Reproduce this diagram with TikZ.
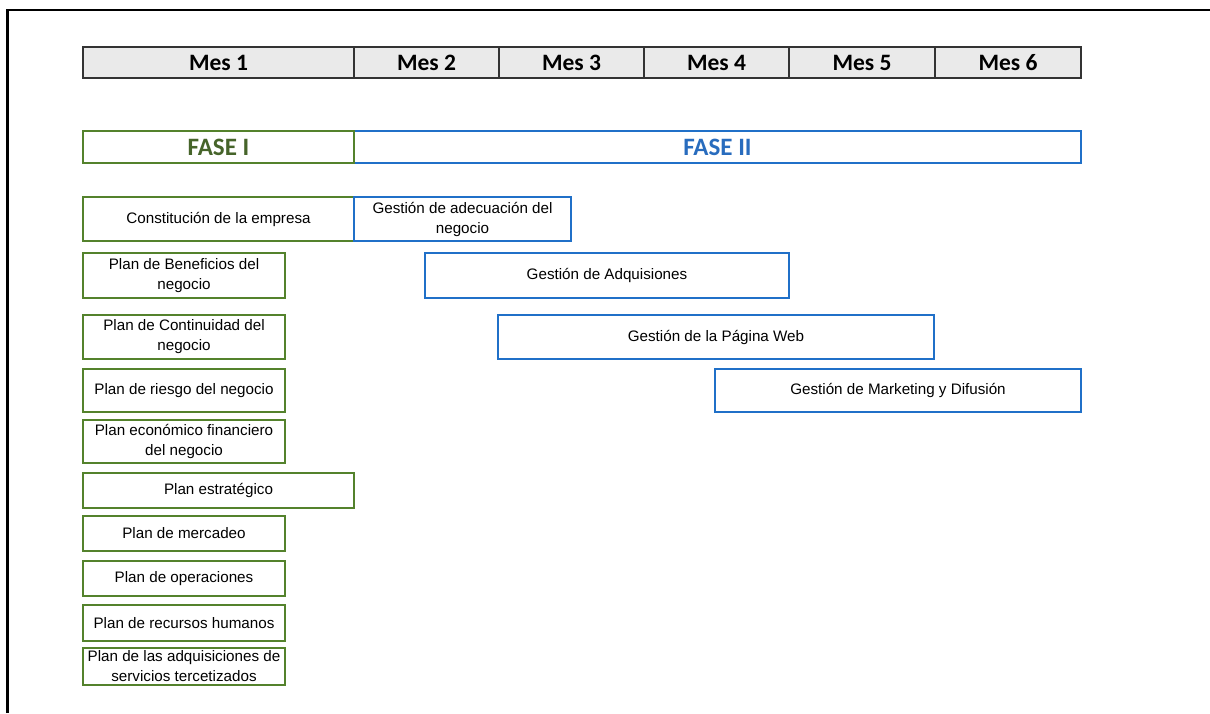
\documentclass[tikz,border=0pt]{standalone}
\usepackage{fontspec}
\setmainfont{Liberation Sans}
\newfontfamily\calib{Carlito}
\definecolor{phaseone}{RGB}{84,130,44}
\definecolor{phaseonetext}{RGB}{70,100,42}
\definecolor{phasetwo}{RGB}{32,112,200}
\definecolor{phasetwotext}{RGB}{40,108,190}
\definecolor{monthfill}{RGB}{234,234,234}
\tikzset{
  cell/.style={anchor=north west, inner sep=0pt, outer sep=0pt},
  month/.style={cell, draw=black!80, line width=1.4pt, fill=monthfill,
    minimum height=31, font=\calib\bfseries\fontsize{23.5}{25}\selectfont},
  phasebox/.style={cell, line width=2.6pt, fill=white, minimum height=32,
    font=\calib\bfseries\fontsize{25}{27}\selectfont},
  gbox/.style={cell, draw=phaseone, line width=2.4pt, fill=white, align=center,
    font=\fontsize{15.2}{20}\selectfont},
  bbox/.style={cell, draw=phasetwo, line width=2.4pt, fill=white, align=center,
    font=\fontsize{15.2}{20}\selectfont},
  frameline/.style={line width=2.6pt, black}
}
\begin{document}
\begin{tikzpicture}[x=1pt, y=-1pt]
\useasboundingbox (0,0) rectangle (1210,713);
\fill[white] (0,0) rectangle (1210,713);

% outer frame (top and left edges)
\coordinate (fbl) at (7.5,713);
\coordinate (ftl) at (7.5,10);
\coordinate (ftr) at (1210,10);
\draw[frameline] (fbl) -- (ftl) -- (ftr);

% month header
\node[month, minimum width=271] (m1) at (83,47) {Mes 1};
\node[month, minimum width=145] (m2) at (354,47) {Mes 2};
\node[month, minimum width=145] (m3) at (499,47) {Mes 3};
\node[month, minimum width=145] (m4) at (644,47) {Mes 4};
\node[month, minimum width=146] (m5) at (789,47) {Mes 5};
\node[month, minimum width=146] (m6) at (935,47) {Mes 6};

% phases
\node[phasebox, draw=phasetwo, text=phasetwotext, minimum width=727] (f2) at (354,131) {FASE II};
\node[phasebox, draw=phaseone, text=phaseonetext, minimum width=271] (f1) at (83,131) {FASE I};

% phase I activities
\node[gbox, minimum width=271, minimum height=44] (a1) at (83,197) {Constitución de la empresa};
\node[gbox, minimum width=202, minimum height=45] (a2) at (83,253) {Plan de Beneficios del\\negocio};
\node[gbox, minimum width=202, minimum height=44] (a3) at (83,315) {Plan de Continuidad del\\negocio};
\node[gbox, minimum width=202, minimum height=43] (a4) at (83,369) {Plan de riesgo del negocio};
\node[gbox, minimum width=202, minimum height=43] (a5) at (83,420) {Plan económico financiero\\del negocio};
\node[gbox, minimum width=271, minimum height=35] (a6) at (83,473) {Plan estratégico};
\node[gbox, minimum width=202, minimum height=35] (a7) at (83,516) {Plan de mercadeo};
\node[gbox, minimum width=202, minimum height=35] (a8) at (83,561) {Plan de operaciones};
\node[gbox, minimum width=202, minimum height=36] (a9) at (83,605) {Plan de recursos humanos};
\node[gbox, minimum width=202, minimum height=37] (a10) at (83,648) {Plan de las adquisiciones de\\servicios tercetizados};
\draw[draw=phaseone, line width=2.4pt] (a10.south west) -- (a10.south east);

% phase II activities
\node[bbox, minimum width=217, minimum height=44] (b1) at (354,197) {Gestión de adecuación del\\negocio};
\node[bbox, minimum width=364, minimum height=45] (b2) at (425,253) {Gestión de Adquisiones};
\node[bbox, minimum width=436, minimum height=44] (b3) at (498,315) {Gestión de la Página Web};
\node[bbox, minimum width=366, minimum height=43] (b4) at (715,369) {Gestión de Marketing y Difusión};
\end{tikzpicture}
\end{document}
